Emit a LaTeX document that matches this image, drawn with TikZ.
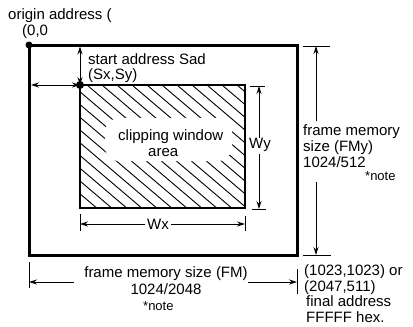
\documentclass[tikz,border=0pt]{standalone}
\usepackage{fontspec}
\setmainfont{Liberation Sans}
\usetikzlibrary{arrows.meta}
\begin{document}
\begin{tikzpicture}[x=1pt,y=-1pt,
  font=\fontsize{15}{16}\selectfont,
  lbl/.style={inner sep=0pt, anchor=base west},
  clbl/.style={inner sep=0pt, anchor=base},
  notelbl/.style={inner sep=0pt, anchor=base west, font=\fontsize{13}{14}\selectfont},
  dim/.style={line width=0.8pt},
  tick/.style={line width=0.8pt},
  tip/.style={dim, -{Stealth[length=8pt,width=5pt]}},
  dtip/.style={dim, {Stealth[length=8pt,width=5pt]}-{Stealth[length=8pt,width=5pt]}},
  hatch/.style={line width=0.9pt},
]
\useasboundingbox (0,0) rectangle (413,327);

% main corners
\coordinate (O) at (29,45);
\coordinate (F) at (297,255);
\coordinate (S) at (80,85);
\coordinate (E) at (245,208);

% hatching of the clipping window
\begin{scope}
  \clip (S) rectangle (E);
  \foreach \k in {-12,...,12} {
    \draw[hatch] (87+15*\k,85) -- ++(220,187);
  }
  \fill[white, rounded corners=14pt] (105,118) rectangle (232,161);
\end{scope}

% rectangles
\draw[line width=3pt] (O) rectangle (F);
\draw[line width=2pt] (S) rectangle (E);

% clipping window text
\node[lbl] (cw) at (118,140.5) {clipping window};
\node[lbl] (area) at (148,156) {area};

% origin
\node[lbl] (orig) at (8,19) {origin address (};
\node[lbl] (orig2) at (22,35) {(0,0};

% start address
\coordinate (sTop) at (80,46.5);
\coordinate (sLeft) at (31,85);
\draw[dtip] (sTop) -- (S);
\draw[dtip] (sLeft) -- (S);
\node[lbl] (sa) at (88,64) {start address Sad};
\node[lbl] (sa2) at (88,79) {(Sx,Sy)};

% dots
\fill (O) circle (3.5);
\fill (S) circle (4);

% Wx dimension
\coordinate (wxL1) at (80,214); \coordinate (wxL2) at (80,231);
\coordinate (wxR1) at (245,216); \coordinate (wxR2) at (245,231);
\draw[tick] (wxL1) -- (wxL2);
\draw[tick] (wxR1) -- (wxR2);
\node[inner sep=2pt] (wx) at (158,224) {Wx};
\coordinate (wxL) at (80,224);
\coordinate (wxR) at (245,224);
\draw[tip] (wx.west) -- (wxL);
\draw[tip] (wx.east) -- (wxR);

% Wy dimension
\coordinate (wyT1) at (250,86); \coordinate (wyT2) at (265,86);
\coordinate (wyB1) at (252,209); \coordinate (wyB2) at (266,209);
\draw[tick] (wyT1) -- (wyT2);
\draw[tick] (wyB1) -- (wyB2);
\node[inner sep=1pt] (wy) at (260,145) {Wy};
\coordinate (wyT) at (259,86);
\coordinate (wyB) at (259,209);
\draw[tip] (259,138) -- (wyT);
\draw[tip] (259,154) -- (wyB);

% FMy dimension
\coordinate (fyT1) at (303,46); \coordinate (fyT2) at (330,46);
\coordinate (fyB1) at (303,255); \coordinate (fyB2) at (331,255);
\draw[tick] (fyT1) -- (fyT2);
\draw[tick] (fyB1) -- (fyB2);
\coordinate (fyT) at (316,46);
\coordinate (fyB) at (316,255);
\coordinate (fyS1) at (316,121);
\coordinate (fyS2) at (316,182);
\draw[tip] (fyS1) -- (fyT);
\draw[tip] (fyS2) -- (fyB);
\node[lbl] (fy1) at (303,135) {frame memory};
\node[lbl] (fy2) at (303,151) {size (FMy)};
\node[lbl] (fy3) at (303,167) {1024/512};
\node[notelbl] (fy4) at (365,180) {*note};

% FMx dimension
\coordinate (fxL1) at (29,262); \coordinate (fxL2) at (29,288);
\coordinate (fxR1) at (297,269); \coordinate (fxR2) at (297,294);
\draw[tick] (fxL1) -- (fxL2);
\draw[tick] (fxR1) -- (fxR2);
\coordinate (fxL) at (29,282);
\coordinate (fxR) at (297,282);
\coordinate (fxS1) at (74,282);
\coordinate (fxS2) at (248,282);
\draw[tip] (fxS1) -- (fxL);
\draw[tip] (fxS2) -- (fxR);
\node[clbl] (fx1) at (166,277) {frame memory size (FM)};
\node[clbl] (fx2) at (166,294) {1024/2048};
\node[notelbl] (fx3) at (143,310) {*note};

% final address
\node[lbl] (fa1) at (304,275) {(1023,1023) or};
\node[lbl] (fa2) at (304,291) {(2047,511)};
\node[lbl] (fa3) at (306,306) {final address};
\node[lbl] (fa4) at (306,322) {FFFFF hex.};
\end{tikzpicture}
\end{document}
